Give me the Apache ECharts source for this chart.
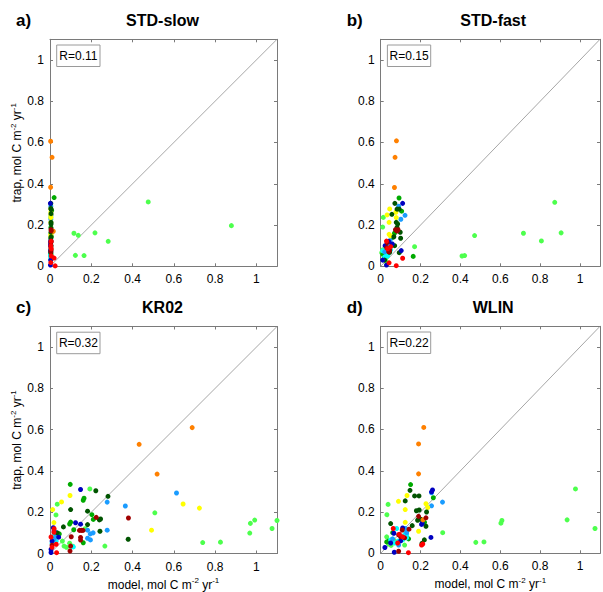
<!DOCTYPE html>
<html>
<head>
<meta charset="utf-8">
<script src="https://cdn.jsdelivr.net/npm/echarts@6/dist/echarts.min.js"></script>
<style>
  html, body { margin: 0; padding: 0; background: #fff; }
  #chart { width: 603px; height: 592px; }
</style>
</head>
<body>
<div id="chart"></div>
<script>
// ---- panel text ----
const panelTitles = ['STD-slow', 'STD-fast', 'KR02', 'WLIN'];
const panelTags = ['a)', 'b)', 'c)', 'd)'];
const rValues = ['0.11', '0.15', '0.32', '0.22'];

// ---- axes ----
const tickValues = [0, 0.2, 0.4, 0.6, 0.8, 1];
const axisMax = 1.1;
const oneToOne = [[0, 0], [1.1, 1.1]];

// ---- station groups (draw order) ----
const groupNames = ['lightgreen', 'green', 'cyan', 'lightblue', 'yellow', 'darkgreen', 'blue', 'orange', 'darkred', 'red'];

// ---- STD-slow: [model, trap] ----
const slowOrange = [[0.003, 0.606], [0.01, 0.528], [0.003, 0.383], [0.016, 0.17]];
const slowLightgreen = [[0.476, 0.312], [0.879, 0.197], [0.116, 0.16], [0.137, 0.15], [0.218, 0.162], [0.282, 0.121], [0.123, 0.053], [0.165, 0.052], [0.004, 0.237], [0.004, 0.19], [0.004, 0.06], [0.006, 0.04], [0.004, 0.08], [0.005, 0.035]];
const slowGreen = [[0.02, 0.333], [0.008, 0.27], [0.005, 0.16], [0.006, 0.145], [0.004, 0.06], [0.005, 0.05]];
const slowDarkgreen = [[0.004, 0.305], [0.004, 0.28], [0.006, 0.275], [0.005, 0.255], [0.005, 0.213], [0.005, 0.205], [0.005, 0.185], [0.005, 0.165], [0.004, 0.135], [0.005, 0.142], [0.004, 0.066], [0.005, 0.1]];
const slowYellow = [[0.004, 0.278], [0.004, 0.249], [0.004, 0.236], [0.004, 0.213], [0.004, 0.155], [0.004, 0.148], [0.004, 0.262]];
const slowBlue = [[0.002, 0.305], [0.003, 0.1], [0.003, 0.108], [0.003, 0.076], [0.002, 0.006], [0.003, 0.12], [0.003, 0.03]];
const slowLightblue = [[0.004, 0.291], [0.005, 0.247], [0.004, 0.228], [0.004, 0.125], [0.004, 0.1], [0.004, 0.07]];
const slowDarkred = [[0.005, 0.177], [0.006, 0.172], [0.004, 0.115], [0.005, 0.078], [0.004, 0.07], [0.004, 0.09], [0.006, 0.12]];
const slowRed = [[0.005, 0.122], [0.004, 0.1], [0.006, 0.085], [0.02, 0.04], [0.025, 0.002], [0.006, 0.05], [0.004, 0.018]];
const slowCyan = [[0.003, 0.075], [0.003, 0.06], [0.003, 0.065], [0.003, 0.08], [0.003, 0.05], [0.003, 0.045]];

// ---- STD-fast ----
const fastOrange = [[0.079, 0.608], [0.072, 0.528], [0.069, 0.382]];
const fastLightgreen = [[0.873, 0.31], [0.716, 0.16], [0.905, 0.162], [0.806, 0.123], [0.471, 0.149], [0.408, 0.05], [0.421, 0.052], [0.17, 0.095], [0.013, 0.237], [0.01, 0.19], [0.005, 0.066], [0.015, 0.05], [0.025, 0.035], [0.03, 0.02], [0.01, 0.08]];
const fastGreen = [[0.092, 0.331], [0.105, 0.267], [0.069, 0.16], [0.163, 0.048], [0.01, 0.06], [0.02, 0.04], [0.06, 0.14]];
const fastDarkgreen = [[0.071, 0.305], [0.082, 0.277], [0.093, 0.277], [0.056, 0.252], [0.078, 0.213], [0.085, 0.205], [0.082, 0.188], [0.098, 0.165], [0.1, 0.136], [0.066, 0.143], [0.093, 0.066], [0.045, 0.068], [0.07, 0.1], [0.02, 0.03]];
const fastYellow = [[0.045, 0.278], [0.032, 0.249], [0.078, 0.236], [0.042, 0.213], [0.042, 0.155], [0.048, 0.148], [0.076, 0.262]];
const fastBlue = [[0.11, 0.305], [0.022, 0.1], [0.058, 0.108], [0.103, 0.076], [0.029, 0.006], [0.04, 0.12], [0.01, 0.03]];
const fastLightblue = [[0.09, 0.291], [0.122, 0.247], [0.101, 0.228], [0.047, 0.125], [0.04, 0.1], [0.02, 0.07]];
const fastDarkred = [[0.074, 0.177], [0.087, 0.177], [0.082, 0.171], [0.032, 0.115], [0.045, 0.078], [0.04, 0.07], [0.03, 0.09]];
const fastRed = [[0.029, 0.122], [0.11, 0.039], [0.078, 0.003], [0.042, 0.017], [0.035, 0.085], [0.05, 0.095]];
const fastCyan = [[0.01, 0.075], [0.03, 0.06], [0.04, 0.065], [0.05, 0.08], [0.035, 0.05], [0.02, 0.045]];

// ---- KR02 ----
const kr02Orange = [[0.689, 0.61], [0.432, 0.529], [0.519, 0.385]];
const kr02Lightgreen = [[0.508, 0.197], [0.193, 0.313], [0.971, 0.146], [0.992, 0.162], [1.10, 0.16], [1.076, 0.121], [0.968, 0.099], [0.74, 0.053], [0.826, 0.055], [0.266, 0.036], [0.029, 0.187], [0.035, 0.239], [0.068, 0.036], [0.08, 0.03], [0.095, 0.05], [0.11, 0.035], [0.06, 0.06], [0.17, 0.12]];
const kr02Green = [[0.098, 0.335], [0.165, 0.268], [0.161, 0.258], [0.1, 0.152], [0.095, 0.143], [0.203, 0.188], [0.161, 0.052], [0.115, 0.115], [0.045, 0.095], [0.21, 0.165]];
const kr02Darkgreen = [[0.222, 0.304], [0.281, 0.277], [0.1, 0.213], [0.182, 0.205], [0.239, 0.163], [0.245, 0.167], [0.065, 0.129], [0.182, 0.14], [0.242, 0.108], [0.379, 0.069], [0.035, 0.1]];
const kr02Yellow = [[0.645, 0.24], [0.724, 0.22], [0.492, 0.113], [0.097, 0.281], [0.056, 0.25], [0.013, 0.213], [0.019, 0.15]];
const kr02Blue = [[0.148, 0.31], [0.124, 0.149], [0.148, 0.142], [0.016, 0.125], [0.042, 0.079], [0.01, 0.06], [0.005, 0.02], [0.005, 0.005], [0.02, 0.11]];
const kr02Lightblue = [[0.613, 0.293], [0.365, 0.23], [0.277, 0.249], [0.277, 0.113], [0.182, 0.113], [0.209, 0.1], [0.195, 0.095], [0.182, 0.074], [0.196, 0.066], [0.03, 0.09], [0.02, 0.07]];
const kr02Darkred = [[0.224, 0.175], [0.38, 0.172], [0.143, 0.112], [0.152, 0.112], [0.16, 0.112], [0.103, 0.081], [0.148, 0.078], [0.148, 0.065], [0.1, 0.036], [0.097, 0.012], [0.01, 0.04]];
const kr02Red = [[0.019, 0.103], [0.032, 0.004], [0.005, 0.08], [0.02, 0.12], [0.03, 0.045], [0.01, 0.03]];
const kr02Cyan = [[0.113, 0.032], [0.02, 0.09], [0.025, 0.075], [0.03, 0.06], [0.01, 0.05], [0.02, 0.1]];

// ---- WLIN ----
const wlinOrange = [[0.216, 0.61], [0.19, 0.53], [0.19, 0.385], [0.212, 0.162]];
const wlinLightgreen = [[0.977, 0.312], [0.935, 0.162], [1.075, 0.12], [0.603, 0.146], [0.608, 0.159], [0.311, 0.1], [0.477, 0.053], [0.518, 0.055], [0.037, 0.237], [0.031, 0.187], [0.03, 0.08], [0.04, 0.045], [0.052, 0.038], [0.12, 0.04], [0.07, 0.06]];
const wlinGreen = [[0.15, 0.333], [0.264, 0.269], [0.22, 0.15], [0.04, 0.06], [0.03, 0.055], [0.06, 0.1], [0.14, 0.07]];
const wlinDarkgreen = [[0.147, 0.305], [0.17, 0.278], [0.192, 0.278], [0.123, 0.254], [0.193, 0.21], [0.179, 0.206], [0.23, 0.2], [0.2, 0.165], [0.227, 0.131], [0.158, 0.134], [0.05, 0.144], [0.219, 0.065], [0.207, 0.048], [0.185, 0.16]];
const wlinYellow = [[0.089, 0.252], [0.132, 0.28], [0.123, 0.212], [0.227, 0.24], [0.236, 0.222], [0.123, 0.15], [0.19, 0.107]];
const wlinBlue = [[0.26, 0.307], [0.255, 0.298], [0.208, 0.146], [0.205, 0.14], [0.252, 0.077], [0.11, 0.123], [0.066, 0.097], [0.021, 0.028], [0.068, 0.005], [0.1, 0.06], [0.05, 0.05]];
const wlinLightblue = [[0.255, 0.293], [0.255, 0.23], [0.31, 0.248], [0.124, 0.12], [0.13, 0.1], [0.06, 0.07], [0.09, 0.04]];
const wlinDarkred = [[0.19, 0.179], [0.227, 0.172], [0.108, 0.113], [0.142, 0.117], [0.09, 0.09], [0.1, 0.08], [0.12, 0.075], [0.09, 0.01]];
const wlinRed = [[0.063, 0.12], [0.211, 0.045], [0.139, 0.003], [0.094, 0.092], [0.11, 0.08], [0.085, 0.05], [0.205, 0.04]];
const wlinCyan = [[0.08, 0.12], [0.125, 0.1], [0.13, 0.09], [0.115, 0.085], [0.13, 0.075], [0.07, 0.05], [0.09, 0.06], [0.11, 0.065], [0.05, 0.065]];

const panelData = [
  { orange: slowOrange, lightgreen: slowLightgreen, green: slowGreen, darkgreen: slowDarkgreen, yellow: slowYellow, blue: slowBlue, lightblue: slowLightblue, darkred: slowDarkred, red: slowRed, cyan: slowCyan },
  { orange: fastOrange, lightgreen: fastLightgreen, green: fastGreen, darkgreen: fastDarkgreen, yellow: fastYellow, blue: fastBlue, lightblue: fastLightblue, darkred: fastDarkred, red: fastRed, cyan: fastCyan },
  { orange: kr02Orange, lightgreen: kr02Lightgreen, green: kr02Green, darkgreen: kr02Darkgreen, yellow: kr02Yellow, blue: kr02Blue, lightblue: kr02Lightblue, darkred: kr02Darkred, red: kr02Red, cyan: kr02Cyan },
  { orange: wlinOrange, lightgreen: wlinLightgreen, green: wlinGreen, darkgreen: wlinDarkgreen, yellow: wlinYellow, blue: wlinBlue, lightblue: wlinLightblue, darkred: wlinDarkred, red: wlinRed, cyan: wlinCyan }
];

// ---- styling ----
const groupColors = {
  orange: '#ff8000', lightgreen: '#4dff4d', green: '#00aa00', darkgreen: '#005400',
  yellow: '#ffff00', blue: '#0000c0', lightblue: '#1a9cff', darkred: '#a00000',
  red: '#ff0000', cyan: '#00ffff'
};
const FONT = '"Liberation Sans", Arial, Helvetica, sans-serif';
const AXIS_GREY = '#7a7a7a';
const SIDE = 227;
const gridPos = [
  { left: 50, top: 39.3 },
  { left: 380.7, top: 39.3 },
  { left: 50, top: 326.5 },
  { left: 380.7, top: 326.3 }
];

const unitsRich = {
  n: { fontSize: 12, fontFamily: FONT, color: '#000', lineHeight: 16 },
  s: { fontSize: 8, fontFamily: FONT, color: '#000', lineHeight: 9, verticalAlign: 'top' }
};

function makeAxis(dim, gridIndex, position, withLabels, name) {
  const ax = {
    type: 'value', gridIndex, position,
    min: 0, max: axisMax, interval: tickValues[1] - tickValues[0],
    axisLine: { show: true, onZero: false, lineStyle: { color: AXIS_GREY, width: 1 } },
    axisTick: { show: true, inside: true, length: 3, lineStyle: { color: AXIS_GREY, width: 1 } },
    splitLine: { show: false },
    axisLabel: {
      show: withLabels, color: '#000', fontSize: 12, fontFamily: FONT,
      margin: dim === 'x' ? 7 : 6,
      formatter: v => (tickValues.some(t => Math.abs(t - v) < 1e-9) ? String(+v.toFixed(1)) : '')
    }
  };
  if (name) {
    ax.name = name;
    ax.nameLocation = 'middle';
    ax.nameGap = dim === 'x' ? 23 : 22;
    ax.nameTextStyle = { rich: unitsRich };
  }
  return ax;
}

const grids = [], xAxes = [], yAxes = [], series = [], graphics = [];
const xName = '{n|model, mol C m}{s|-2}{n| yr}{s|-1}';
const yName = '{n|trap, mol C m}{s|-2}{n| yr}{s|-1}';

gridPos.forEach((g, i) => {
  grids.push({ left: g.left, top: g.top, width: SIDE, height: SIDE, containLabel: false });
  const bottomRow = i >= 2, leftCol = i % 2 === 0;
  xAxes.push(makeAxis('x', i, 'bottom', true, bottomRow ? xName : null));
  xAxes.push(makeAxis('x', i, 'top', false, null));
  yAxes.push(makeAxis('y', i, 'left', true, leftCol ? yName : null));
  yAxes.push(makeAxis('y', i, 'right', false, null));

  // 1:1 reference line
  series.push({
    type: 'line', xAxisIndex: 2 * i, yAxisIndex: 2 * i, data: oneToOne,
    symbol: 'none', silent: true, z: 1,
    lineStyle: { color: '#8f8f8f', width: 0.8 }
  });
  groupNames.forEach(gn => {
    series.push({
      type: 'scatter', xAxisIndex: 2 * i, yAxisIndex: 2 * i,
      data: panelData[i][gn], symbol: 'circle', symbolSize: 5, clip: false, z: 2,
      itemStyle: { color: groupColors[gn], borderWidth: 0, opacity: 1 }
    });
  });

  // panel title and tag
  const titleY = g.top - 19;
  graphics.push({
    type: 'text', x: g.left + SIDE / 2 - 1, y: titleY,
    style: { text: panelTitles[i], font: 'bold 16px ' + FONT, fill: '#000', align: 'center', verticalAlign: 'middle' }
  });
  graphics.push({
    type: 'text', x: g.left - 34, y: titleY,
    style: { text: panelTags[i], font: 'bold 17px ' + FONT, fill: '#000', align: 'left', verticalAlign: 'middle' }
  });
  // correlation box
  graphics.push({
    type: 'rect', shape: { x: g.left + 6.7, y: g.top + 5.7, width: 43.3, height: 21.5 },
    style: { fill: '#fff', stroke: '#9a9a9a', lineWidth: 1 }, z: 10
  });
  graphics.push({
    type: 'text', x: g.left + 6.7 + 21.7, y: g.top + 5.7 + 11,
    style: { text: 'R=' + rValues[i], font: '12px ' + FONT, fill: '#000', align: 'center', verticalAlign: 'middle' }, z: 11
  });
});

const chart = echarts.init(document.getElementById('chart'), null, { renderer: 'svg', width: 603, height: 592 });
chart.setOption({
  animation: false,
  backgroundColor: '#fff',
  grid: grids,
  xAxis: xAxes,
  yAxis: yAxes,
  series: series,
  graphic: graphics
});
</script>
</body>
</html>
